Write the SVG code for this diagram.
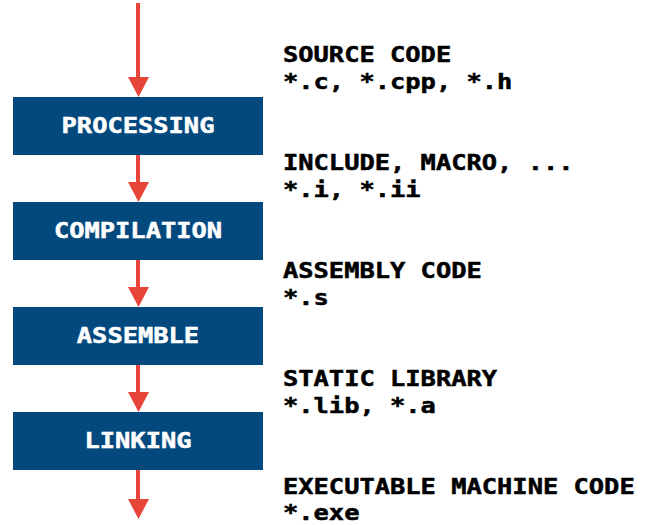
<svg xmlns="http://www.w3.org/2000/svg" width="650" height="525" viewBox="0 0 650 525">
<style>
.box{fill:#03497E}
.bt{font-family:"DejaVu Sans Mono",monospace;font-weight:bold;font-size:21px;fill:#FFFFFF;stroke:#FFFFFF;stroke-width:0.5;text-anchor:middle}
.lt{font-family:"DejaVu Sans Mono",monospace;font-weight:bold;font-size:21px;fill:#000000;stroke:#000000;stroke-width:0.5}
.ar{stroke:#E8453A;stroke-width:4;fill:none}
.hd{fill:#E8453A}
</style>
<rect width="650" height="525" fill="#FFFFFF"/>
<g id="connectors">
<line class="ar" x1="138" y1="3" x2="138" y2="79"/>
<polygon class="hd" points="128,77 149,77 138.5,97"/>
<line class="ar" x1="138" y1="155" x2="138" y2="184"/>
<polygon class="hd" points="128,182 149,182 138.5,202"/>
<line class="ar" x1="138" y1="260" x2="138" y2="289"/>
<polygon class="hd" points="128,287 149,287 138.5,307"/>
<line class="ar" x1="138" y1="365" x2="138" y2="394"/>
<polygon class="hd" points="128,392 149,392 138.5,412"/>
<line class="ar" x1="138" y1="470" x2="138" y2="501"/>
<polygon class="hd" points="128,499 149,499 138.5,519"/>
</g>
<g id="processing">
<rect class="box" x="13" y="97" width="250" height="58"/>
<text class="bt" transform="translate(138,133) scale(1.21,1)">PROCESSING</text>
</g>
<g id="compilation">
<rect class="box" x="13" y="202" width="250" height="58"/>
<text class="bt" transform="translate(138,238) scale(1.21,1)">COMPILATION</text>
</g>
<g id="assemble">
<rect class="box" x="13" y="307" width="250" height="58"/>
<text class="bt" transform="translate(138,343) scale(1.21,1)">ASSEMBLE</text>
</g>
<g id="linking">
<rect class="box" x="13" y="412" width="250" height="58"/>
<text class="bt" transform="translate(138,448) scale(1.21,1)">LINKING</text>
</g>
<g id="labels">
<text class="lt" transform="translate(283,62) scale(1.21,1)">SOURCE CODE</text>
<text class="lt" transform="translate(283,89) scale(1.21,1)">*.c, *.cpp, *.h</text>
<text class="lt" transform="translate(283,170) scale(1.21,1)">INCLUDE, MACRO, ...</text>
<text class="lt" transform="translate(283,197) scale(1.21,1)">*.i, *.ii</text>
<text class="lt" transform="translate(283,278) scale(1.21,1)">ASSEMBLY CODE</text>
<text class="lt" transform="translate(283,305) scale(1.21,1)">*.s</text>
<text class="lt" transform="translate(283,386) scale(1.21,1)">STATIC LIBRARY</text>
<text class="lt" transform="translate(283,413) scale(1.21,1)">*.lib, *.a</text>
<text class="lt" transform="translate(283,494) scale(1.21,1)">EXECUTABLE MACHINE CODE</text>
<text class="lt" transform="translate(283,520) scale(1.21,1)">*.exe</text>
</g>
</svg>
